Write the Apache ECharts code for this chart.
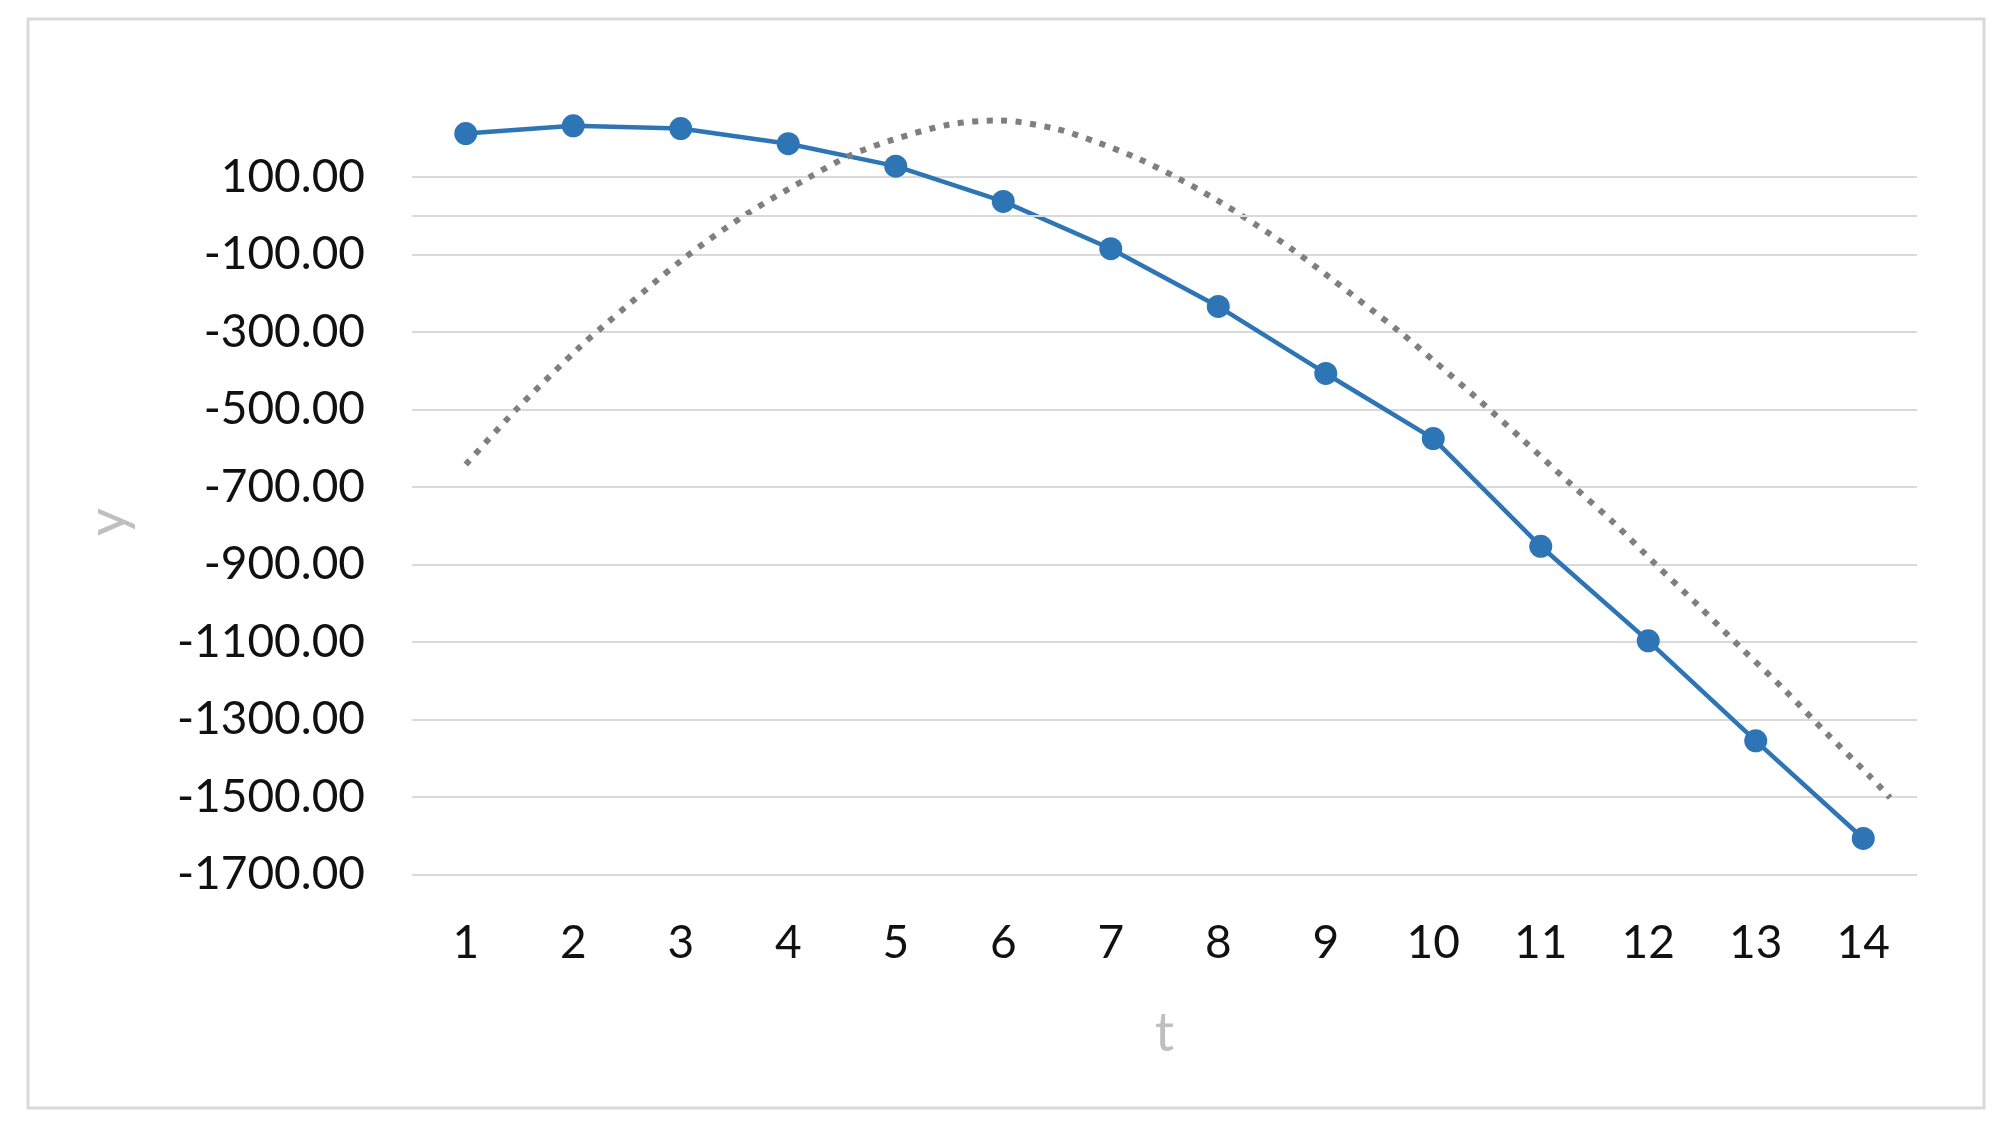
<!DOCTYPE html>
<html>
<head>
<meta charset="utf-8">
<script src="https://cdn.jsdelivr.net/npm/echarts@6/dist/echarts.min.js"></script>
<style>
  html, body { margin: 0; padding: 0; background: #fff; }
  #chart { width: 2008px; height: 1131px; }
</style>
</head>
<body>
<div id="chart"></div>
<script>
// t values on the horizontal axis
var categories = ['1', '2', '3', '4', '5', '6', '7', '8', '9', '10', '11', '12', '13', '14'];
// measured y (blue markers)
var yValues = [212, 232, 225, 186, 128, 37, -85, -234, -407, -575, -853, -1097, -1355, -1607];
var trendT = [1, 1.47, 2.06, 2.28, 3.03, 3.6, 4.2, 4.58, 4.96, 5.49, 5.95, 6.48, 6.87, 7.26, 7.63, 7.99,
              8.36, 8.7, 9.03, 9.69, 10.0, 10.41, 10.84, 11.25, 11.67, 12.07, 12.47, 12.87, 13.27, 13.66, 14.06, 14.25];
var trendY = [-642, -500, -339, -285, -110, 2, 100, 156, 195, 235, 246, 225, 190, 147, 96, 40,
              -25, -89, -158, -300, -373, -472, -580, -685, -790, -900, -1007, -1117, -1224, -1336, -1446, -1502];
// y axis ticks
var yMin = -1700, yMax = 300, yStep = 200;

var trendData = trendT.map(function (t, i) { return [t, trendY[i]]; });

var myChart = echarts.init(document.getElementById('chart'));
var labelFont = 'Lato, "Liberation Sans", sans-serif';

var option = {
    backgroundColor: '#fff',
    animation: false,
    graphic: [{
        type: 'rect',
        shape: { x: 28, y: 19, width: 1956, height: 1089 },
        style: { fill: 'none', stroke: '#d9d9d9', lineWidth: 3 },
        silent: true
    }],
    grid: {
        left: 412,
        right: 91,
        top: 99.5,
        height: 775,
        containLabel: false,
        outerBoundsMode: 'none'
    },
    xAxis: [
        {
            type: 'category',
            data: categories,
            boundaryGap: true,
            position: 'bottom',
            axisLine: { show: false, onZero: false },
            axisTick: { show: false },
            splitLine: { show: false },
            axisLabel: {
                margin: 46,
                color: '#111',
                fontSize: 46,
                fontFamily: labelFont
            },
            name: 't',
            nameLocation: 'middle',
            nameGap: 132,
            nameTextStyle: { color: '#bfbfbf', fontSize: 54, fontFamily: labelFont }
        },
        {
            type: 'value',
            show: false,
            min: 0.5,
            max: 14.5,
            axisLine: { onZero: false },
            splitLine: { show: false }
        }
    ],
    yAxis: {
        type: 'value',
        min: yMin,
        max: yMax,
        interval: yStep,
        axisLine: { show: false },
        axisTick: { show: false },
        axisLabel: {
            margin: 47,
            color: '#111',
            fontSize: 46,
            fontFamily: labelFont,
            showMaxLabel: false,
            formatter: function (v) { return v.toFixed(2); }
        },
        splitLine: {
            showMaxLine: false,
            lineStyle: { color: '#d9d9d9', width: 2 }
        },
        name: 'y',
        nameLocation: 'middle',
        nameGap: 276,
        nameTextStyle: { color: '#bfbfbf', fontSize: 54, fontFamily: labelFont, padding: [0, 70, 0, 0] }
    },
    series: [
        {
            name: 'y',
            type: 'line',
            xAxisIndex: 0,
            data: yValues,
            symbol: 'circle',
            symbolSize: 23,
            itemStyle: { color: '#2e75b6' },
            lineStyle: { color: '#2e75b6', width: 4.5 },
            z: 3,
            markLine: {
                silent: true,
                symbol: ['none', 'none'],
                label: { show: false },
                lineStyle: { color: '#d9d9d9', width: 2, type: 'solid' },
                data: [{ yAxis: 0 }]
            }
        },
        {
            name: 'trend',
            type: 'line',
            xAxisIndex: 1,
            data: trendData,
            smooth: 0.3,
            showSymbol: false,
            lineStyle: { color: '#7f7f7f', width: 6, type: [6, 8.5], cap: 'butt' },
            z: 4
        }
    ]
};
myChart.setOption(option);
</script>
</body>
</html>
